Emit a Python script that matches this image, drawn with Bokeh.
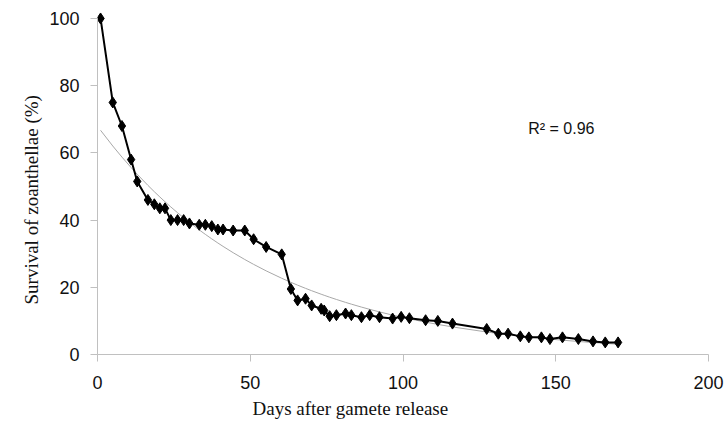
import numpy as np
from bokeh.plotting import figure
from bokeh.models import Range1d, Label, FixedTicker, Title
from bokeh.embed import file_html
from bokeh.resources import INLINE

days = [1, 5, 8, 11, 13, 16.5, 18.6, 20.4, 22.1, 24, 26.2, 28.2, 30.1, 33.3, 35.3,
        37.4, 39.4, 41.1, 44.4, 48.2, 51.1, 55.2, 60.3, 63.3, 65.5, 68.1, 70.1,
        73.2, 74.2, 76, 78.2, 81.2, 83.1, 86.4, 89.1, 92.3, 96.6, 99.4, 102.1,
        107.4, 111.4, 116.2, 127.4, 131.2, 134.4, 138.4, 141.2, 145.3, 148.1,
        152.2, 157.4, 162.2, 166.2, 170.4]
survival = [100, 75, 68, 58, 51.5, 46, 44.7, 43.5, 43.5, 40, 40, 40, 39, 38.6,
            38.6, 38.2, 37.2, 37.2, 36.9, 36.9, 34.3, 32, 29.8, 19.5, 16.1, 16.6,
            14.6, 13.6, 13.1, 11.4, 11.7, 12.2, 11.7, 11.1, 11.7, 11.1, 10.7, 11.2,
            10.8, 10.2, 10.0, 9.2, 7.6, 6.2, 6.2, 5.4, 5.1, 5.1, 4.6, 5.1, 4.6,
            3.9, 3.6, 3.6]
x_ticks = [0, 50, 100, 150, 200]
y_ticks = [0, 20, 40, 60, 80, 100]
r2_text = "R\u00b2 = 0.96"
x_title = "Days after gamete release"
y_title = "Survival of zoanthellae (%)"

# exponential trendline fitted to the data (least squares on ln y)
d = np.array(days, dtype=float)
s = np.array(survival, dtype=float)
b, ln_a = np.polyfit(d, np.log(s), 1)
trend_x = d
trend_y = np.exp(ln_a) * np.exp(b * trend_x)

W, H = 727, 422
p = figure(width=W, height=H, output_backend="svg", toolbar_location=None,
           x_range=Range1d(0, 200), y_range=Range1d(0, 103.86),
           min_border_left=97, min_border_right=19, min_border_top=5,
           min_border_bottom=67)
p.outline_line_color = None
p.grid.grid_line_color = None
p.background_fill_color = "white"
p.border_fill_color = "white"

for ax, ticks in ((p.xaxis[0], x_ticks), (p.yaxis[0], y_ticks)):
    ax.ticker = FixedTicker(ticks=ticks)
    ax.minor_tick_line_color = None
    ax.axis_line_color = "#c0c0c0"
    ax.major_tick_line_color = "#c0c0c0"
    ax.major_tick_out = 7
    ax.major_tick_in = 0
    ax.major_label_text_font = "Liberation Sans"
    ax.major_label_text_font_size = "18px"
    ax.major_label_text_color = "#111111"
p.yaxis[0].bounds = (0, 100)
p.xaxis[0].major_label_standoff = 14
p.yaxis[0].major_label_standoff = 11

p.line(trend_x, trend_y, line_color="#a8a8a8", line_width=1)
p.line(days, survival, line_color="black", line_width=2)
p.scatter(days, survival, marker="diamond", size=11, fill_color="black",
          line_color="black")

p.add_layout(Label(x=141, y=64.6, text=r2_text, text_font="Liberation Sans",
                   text_font_size="16px", text_color="#111111"))

p.add_layout(Title(text=x_title, align="left", offset=155, standoff=8,
                   text_font="Liberation Serif", text_font_size="19px",
                   text_font_style="normal", text_color="#111111"), "below")
p.add_layout(Title(text=y_title, align="left", offset=50, standoff=10,
                   text_font="Liberation Serif", text_font_size="19px",
                   text_font_style="normal", text_color="#111111"), "left")

open("out.html", "w").write(file_html(p, INLINE))
